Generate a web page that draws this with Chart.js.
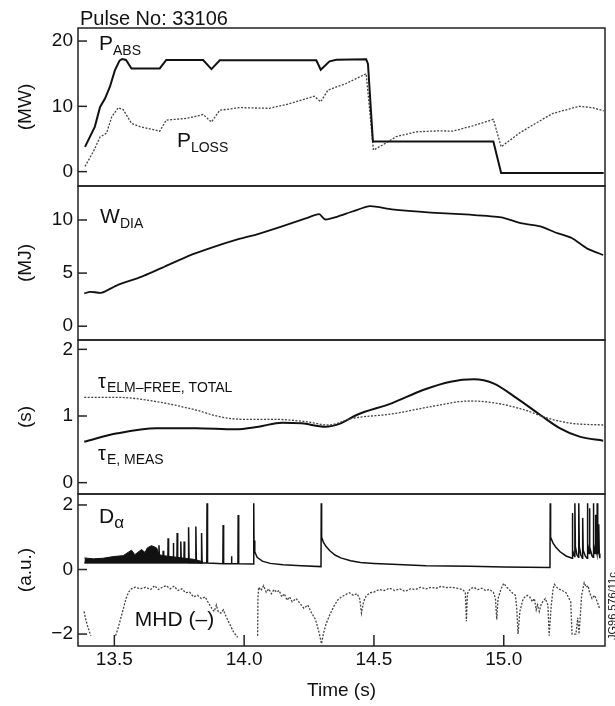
<!DOCTYPE html>
<html>
<head>
<meta charset="utf-8">
<script src="https://cdn.jsdelivr.net/npm/chart.js@4.4.1/dist/chart.umd.min.js"></script>
<style>
  html, body { margin: 0; background: #fff; }
</style>
</head>
<body>
<canvas id="pulse" width="615" height="706"></canvas>
<script>
const FONT = "'Liberation Sans', Arial, Helvetica, sans-serif";
const INK = "#111";

// axes
const TIME_RANGE = [13.36, 15.39];
const TIME_TICKS = [13.5, 14.0, 14.5, 15.0];
const MW_TICKS = [0, 10, 20];
const MJ_TICKS = [0, 5, 10];
const S_TICKS = [0, 1, 2];
const AU_TICKS = [-2, 0, 2];

// panel 1 (MW)
const P_ABS = [[13.387,3.8],[13.425,6.9],[13.445,9.9],[13.464,11.2],[13.483,13.0],[13.502,15.5],[13.52,17.0],
  [13.53,17.25],[13.545,17.1],[13.566,15.8],[13.675,15.8],[13.70,17.1],[13.842,17.1],[13.874,15.7],[13.906,17.05],
  [14.278,17.05],[14.295,15.6],[14.329,16.9],[14.355,17.15],[14.47,17.2],[14.477,16.5],[14.496,4.6],[14.96,4.6],
  [14.99,-0.2],[15.385,-0.2]];
const P_LOSS = [[13.387,0.8],[13.419,3.05],[13.445,5.3],[13.47,5.9],[13.49,8.4],[13.515,9.8],[13.534,9.5],[13.566,7.4],
  [13.598,6.9],[13.675,6.2],[13.70,7.9],[13.778,8.15],[13.842,8.75],[13.874,7.6],[13.906,9.4],[13.983,9.8],[14.098,9.7],
  [14.175,10.4],[14.27,11.55],[14.295,10.7],[14.323,12.5],[14.393,13.5],[14.47,15.0],[14.498,3.3],[14.534,4.1],
  [14.585,5.35],[14.663,6.1],[14.752,6.25],[14.803,6.2],[14.88,7.0],[14.96,8.0],[14.99,3.8],[15.06,5.9],[15.11,7.1],
  [15.188,8.9],[15.29,10.0],[15.342,9.8],[15.385,9.3]];

// panel 2 (MJ)
const W_DIA = [[13.384,3.08],[13.407,3.24],[13.452,3.15],[13.512,3.87],[13.603,4.65],[13.693,5.6],[13.784,6.6],
  [13.875,7.4],[13.965,8.1],[14.056,8.7],[14.146,9.4],[14.237,10.15],[14.289,10.55],[14.312,10.05],[14.357,10.3],
  [14.417,10.8],[14.485,11.3],[14.568,11.0],[14.719,10.7],[14.87,10.5],[14.99,10.25],[15.066,9.7],[15.141,9.4],
  [15.202,8.8],[15.262,8.3],[15.322,7.3],[15.383,6.7]];

// panel 3 (s)
const TAU_E_MEAS = [[13.384,0.615],[13.512,0.74],[13.663,0.815],[13.814,0.815],[13.965,0.8],[14.056,0.84],[14.146,0.9],
  [14.222,0.89],[14.312,0.84],[14.372,0.89],[14.433,1.015],[14.568,1.19],[14.689,1.39],[14.795,1.515],[14.885,1.55],
  [14.96,1.49],[15.051,1.265],[15.141,1.015],[15.217,0.815],[15.292,0.69],[15.383,0.63]];
const TAU_ELM_FREE = [[13.384,1.28],[13.512,1.28],[13.663,1.215],[13.814,1.09],[13.905,0.99],[13.995,0.95],[14.116,0.95],
  [14.237,0.915],[14.327,0.865],[14.417,0.965],[14.568,1.03],[14.719,1.14],[14.87,1.225],[14.975,1.19],[15.081,1.09],
  [15.171,0.965],[15.262,0.89],[15.383,0.865]];

// panel 4 (a.u.)
const DALPHA_BAND_TOP = [[13.385,0.36],[13.419,0.33],[13.457,0.35],[13.496,0.40],[13.534,0.43],[13.566,0.6],[13.579,0.46],
  [13.605,0.62],[13.618,0.53],[13.627,0.67],[13.643,0.74],[13.663,0.67],[13.673,0.46],[13.688,0.43],[13.74,0.38],
  [13.803,0.32],[13.842,0.24]];
const DALPHA_BAND_BOT = [[13.385,0.2],[13.842,0.2]];
const DALPHA = [[13.385,0.22],[13.671,0.22],[13.672,0.75],[13.674,0.22],[13.687,0.22],[13.688,0.58],[13.690,0.22],
  [13.706,0.22],[13.707,0.97],[13.709,0.22],[13.726,0.22],[13.727,0.82],[13.729,0.22],[13.741,0.22],[13.742,1.13],
  [13.744,0.22],[13.755,0.22],[13.756,0.87],[13.758,0.22],[13.768,0.22],[13.769,0.87],[13.771,0.22],[13.785,0.22],
  [13.786,1.31],[13.788,0.21],[13.813,0.21],[13.814,1.33],[13.816,0.21],[13.835,0.2],[13.836,1.13],[13.838,0.2],
  [13.856,0.2],[13.857,2.05],[13.859,0.2],[13.918,0.18],[13.919,1.38],[13.921,0.18],[13.950,0.18],[13.951,0.41],
  [13.953,0.18],[13.976,0.18],[13.977,1.69],[13.979,0.18],[14.036,0.17],[14.037,2.05],[14.038,0.9],[14.041,0.55],
  [14.05,0.38],[14.07,0.26],[14.1,0.19],[14.15,0.15],[14.22,0.12],[14.296,0.09],[14.297,2.05],[14.2985,1.0],
  [14.305,0.85],[14.315,0.72],[14.33,0.58],[14.35,0.45],[14.372,0.36],[14.41,0.27],[14.448,0.22],[14.5,0.19],
  [14.57,0.16],[14.7,0.12],[14.87,0.1],[15.0,0.08],[15.178,0.06],[15.179,2.05],[15.1805,1.0],[15.19,0.82],[15.2,0.7],
  [15.217,0.55],[15.24,0.42],[15.263,0.35],[15.264,1.75],[15.266,0.6],[15.27,0.45],[15.273,0.4],[15.274,2.05],
  [15.276,0.7],[15.282,0.45],[15.288,0.38],[15.289,2.05],[15.291,0.7],[15.297,0.45],[15.303,0.35],[15.304,1.6],
  [15.306,0.6],[15.314,0.42],[15.321,0.35],[15.322,2.05],[15.324,0.8],[15.329,0.5],[15.33,1.9],[15.332,0.7],
  [15.34,0.42],[15.344,0.38],[15.345,2.05],[15.347,0.8],[15.352,0.5],[15.353,1.7],[15.355,0.7],[15.359,0.5],
  [15.36,2.05],[15.362,0.8],[15.365,0.5],[15.366,1.4],[15.368,0.5],[15.37,0.35]];
// MHD trace, three separate pieces (gaps where it leaves the window)
const MHD_A = [[13.383,-1.3],[13.39,-1.55],[13.397,-1.75],[13.405,-1.95],[13.41,-2.05]];
const MHD_B = [[13.505,-2.05],[13.515,-1.8],[13.525,-1.5],[13.535,-1.2],[13.545,-0.9],[13.555,-0.7],[13.565,-0.6],
  [13.58,-0.55],[13.6,-0.6],[13.62,-0.55],[13.64,-0.62],[13.655,-0.5],[13.67,-0.62],[13.685,-0.55],[13.7,-0.5],
  [13.715,-0.6],[13.73,-0.52],[13.745,-0.65],[13.76,-0.6],[13.775,-0.72],[13.79,-0.7],[13.805,-0.85],[13.82,-0.8],
  [13.835,-0.9],[13.85,-0.85],[13.86,-1.0],[13.875,-1.2],[13.885,-1.3],[13.893,-1.1],[13.9,-1.3],[13.91,-1.35],
  [13.92,-1.25],[13.93,-1.45],[13.945,-1.7],[13.96,-1.95],[13.975,-2.1]];
const MHD_C = [[14.052,-2.05],[14.053,-0.9],[14.056,-0.55],[14.065,-0.65],[14.075,-0.5],[14.085,-0.7],[14.095,-0.6],
  [14.105,-0.75],[14.115,-0.62],[14.125,-0.7],[14.135,-0.65],[14.145,-0.85],[14.155,-0.75],[14.165,-0.95],[14.175,-0.85],
  [14.185,-1.0],[14.2,-0.9],[14.215,-1.05],[14.23,-1.2],[14.245,-1.1],[14.26,-1.35],[14.275,-1.55],[14.29,-2.0],
  [14.298,-2.3],[14.305,-2.0],[14.315,-1.7],[14.33,-1.4],[14.345,-1.15],[14.36,-0.95],[14.375,-0.85],[14.39,-0.78],
  [14.405,-0.72],[14.42,-0.8],[14.435,-0.75],[14.445,-0.9],[14.452,-1.35],[14.46,-1.0],[14.47,-0.82],[14.485,-0.72],
  [14.5,-0.7],[14.52,-0.62],[14.54,-0.65],[14.56,-0.58],[14.58,-0.65],[14.6,-0.6],[14.62,-0.68],[14.64,-0.6],
  [14.66,-0.62],[14.68,-0.55],[14.7,-0.6],[14.72,-0.55],[14.74,-0.58],[14.76,-0.52],[14.78,-0.56],[14.8,-0.55],
  [14.82,-0.58],[14.84,-0.62],[14.852,-0.7],[14.856,-1.6],[14.86,-0.75],[14.87,-0.6],[14.885,-0.55],[14.9,-0.62],
  [14.915,-0.58],[14.93,-0.65],[14.945,-0.62],[14.96,-0.7],[14.968,-0.9],[14.973,-1.55],[14.978,-0.9],[14.99,-0.6],
  [15.0,-0.43],[15.012,-0.55],[15.03,-0.7],[15.045,-0.8],[15.05,-1.2],[15.055,-2.0],[15.062,-1.3],[15.075,-0.9],
  [15.09,-0.8],[15.1,-0.85],[15.11,-1.0],[15.118,-0.9],[15.125,-1.25],[15.13,-1.1],[15.137,-1.3],[15.145,-1.05],
  [15.16,-0.9],[15.17,-1.1],[15.175,-2.05],[15.182,-1.2],[15.19,-0.6],[15.195,-0.46],[15.21,-0.6],[15.225,-0.65],
  [15.24,-0.72],[15.258,-1.0],[15.263,-2.0],[15.27,-2.0],[15.278,-2.0],[15.285,-1.5],[15.29,-2.0],[15.3,-0.8],
  [15.31,-0.41],[15.318,-0.55],[15.325,-0.5],[15.33,-0.7],[15.34,-0.9],[15.35,-0.8],[15.36,-1.0],[15.37,-1.23]];

// in-plot labels: [axis, time, value, main text, subscript]
const LABELS = [
  ["yMW", 13.441, 18.6, "P", "ABS"],
  ["yMW", 13.741, 3.8, "P", "LOSS"],
  ["yMJ", 13.445, 9.7, "W", "DIA"],
  ["yS", 13.437, 1.42, "\u03c4", "ELM\u2013FREE, TOTAL"],
  ["yS", 13.437, 0.34, "\u03c4", "E, MEAS"],
  ["yAU", 13.441, 1.45, "D", "\u03b1"],
  ["yAU", 13.579, -1.75, "MHD (\u2013)", ""],
];

const pts = arr => arr.map(([x, y]) => ({ x, y }));

function line(data, axis, extra) {
  return Object.assign({
    data: pts(data), yAxisID: axis, borderColor: INK, borderWidth: 2,
    pointRadius: 0, tension: 0, fill: false,
  }, extra);
}
const DOTTED = { borderColor: "#444", borderWidth: 1.3, borderDash: [2, 1.5] };

function yAxis(weight, stackWeight, min, max, ticks, title) {
  return {
    type: "linear", position: "left", stack: "panels", stackWeight, weight, min, max, offset: false,
    grid: { display: false, drawTicks: false },
    border: { display: false },
    afterBuildTicks: s => { s.ticks = ticks.map(v => ({ value: v })); },
    afterFit: s => { s.width = 78; },
    ticks: { padding: 5, color: INK, font: { size: 19, family: FONT },
      callback: v => String(v).replace("-", "\u2212") },
    title: { display: true, text: title, color: INK, font: { size: 19, family: FONT },
      padding: { top: 14, bottom: 0 } },
  };
}

const frames = {
  id: "frames",
  afterDatasetsDraw(chart) {
    const { ctx, chartArea: a, scales } = chart;
    ctx.save();
    ctx.strokeStyle = "#222";
    ctx.lineWidth = 1.5;
    ["yMW", "yMJ", "yS", "yAU"].forEach(id => {
      const s = scales[id];
      ctx.strokeRect(a.left, s.top, a.right - a.left, s.bottom - s.top);
      s.ticks.forEach(t => {
        const y = s.getPixelForValue(t.value);
        ctx.beginPath(); ctx.moveTo(a.left, y); ctx.lineTo(a.left + 9, y); ctx.stroke();
      });
    });
    scales.x.ticks.forEach(t => {
      const x = scales.x.getPixelForValue(t.value);
      ctx.beginPath(); ctx.moveTo(x, a.bottom); ctx.lineTo(x, a.bottom - 11); ctx.stroke();
    });

    ctx.fillStyle = INK;
    ctx.textBaseline = "alphabetic";
    ctx.textAlign = "left";
    ctx.font = `20px ${FONT}`;
    ctx.fillText("Pulse No: 33106", a.left + 2, 25);

    LABELS.forEach(([axis, t, v, main, sub]) => {
      const x = scales.x.getPixelForValue(t);
      const y = scales[axis].getPixelForValue(v);
      const tau = main === "\u03c4";
      ctx.font = `${tau ? 20 : 21}px ${FONT}`;
      ctx.fillText(main, x, y);
      if (!sub) return;
      const w = ctx.measureText(main).width;
      ctx.font = `${sub === "\u03b1" ? 17 : 14}px ${FONT}`;
      ctx.fillText(sub, x + w + (tau ? 1 : 0), y + (tau ? 4 : 5));
    });

    // figure reference, printed sideways at the right edge
    ctx.save();
    ctx.translate(612, 640);
    ctx.rotate(-Math.PI / 2);
    ctx.font = `11px ${FONT}`;
    ctx.fillText("JG96.576/11c", 0, 4);
    ctx.restore();
    ctx.restore();
  },
};

new Chart(document.getElementById("pulse"), {
  type: "line",
  data: {
    datasets: [
      line(P_ABS, "yMW"),
      line(P_LOSS, "yMW", DOTTED),
      line(W_DIA, "yMJ", { borderWidth: 1.8, tension: 0.2 }),
      line(TAU_ELM_FREE, "yS", Object.assign({ cubicInterpolationMode: "monotone" }, DOTTED)),
      line(TAU_E_MEAS, "yS", { cubicInterpolationMode: "monotone" }),
      line(DALPHA_BAND_TOP, "yAU", { borderWidth: 1, fill: "+1", backgroundColor: INK }),
      line(DALPHA_BAND_BOT, "yAU", { borderWidth: 1 }),
      line(DALPHA, "yAU", { borderWidth: 1.5 }),
      line(MHD_A, "yAU", DOTTED),
      line(MHD_B, "yAU", DOTTED),
      line(MHD_C, "yAU", DOTTED),
    ],
  },
  options: {
    responsive: false,
    devicePixelRatio: 1,
    animation: false,
    layout: { padding: { left: 0, right: 10, top: 28, bottom: 0 } },
    plugins: { legend: { display: false }, tooltip: { enabled: false } },
    scales: {
      x: {
        type: "linear", min: TIME_RANGE[0], max: TIME_RANGE[1],
        grid: { display: false, drawTicks: false },
        border: { display: false },
        afterBuildTicks: s => { s.ticks = TIME_TICKS.map(v => ({ value: v })); },
        afterFit: s => { s.height = 60; },
        ticks: { padding: 2, maxRotation: 0, autoSkip: false, color: INK, font: { size: 19, family: FONT },
          callback: v => v.toFixed(1) },
        title: { display: true, text: "Time (s)", color: INK, font: { size: 19, family: FONT },
          padding: { top: 0, bottom: 4 } },
      },
      yMW: yAxis(4, 158, -2.2, 22, MW_TICKS, "(MW)"),
      yMJ: yAxis(3, 154, -1.3, 13.2, MJ_TICKS, "(MJ)"),
      yS: yAxis(2, 154, -0.17, 2.14, S_TICKS, "(s)"),
      yAU: yAxis(1, 152, -2.37, 2.34, AU_TICKS, "(a.u.)"),
    },
  },
  plugins: [frames],
});
</script>
</body>
</html>
